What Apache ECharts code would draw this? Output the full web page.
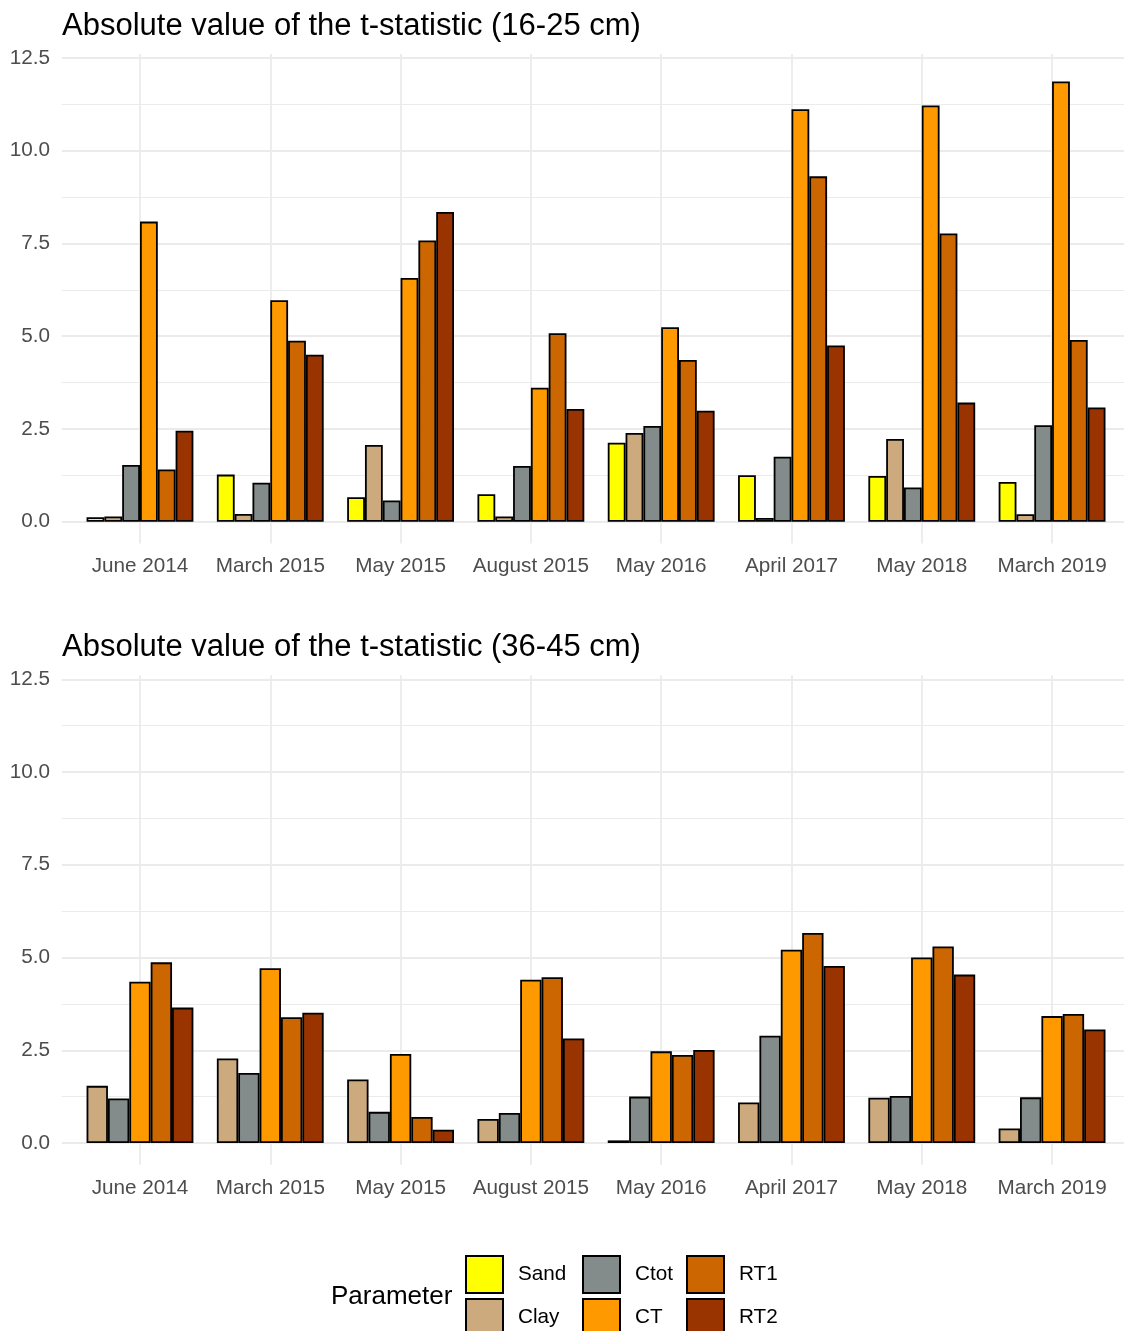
<!DOCTYPE html>
<html><head><meta charset="utf-8">
<script src="https://cdn.jsdelivr.net/npm/echarts@6/dist/echarts.min.js"></script>
<style>html,body{margin:0;padding:0;background:#fff}#c{width:1124px;height:1331px}</style>
</head><body><div id="c"></div>
<script>
// ---- data ----
const categories = ['June 2014','March 2015','May 2015','August 2015','May 2016','April 2017','May 2018','March 2019'];
const yTicks = [0, 2.5, 5, 7.5, 10, 12.5];
const yMinorTicks = [1.25, 3.75, 6.25, 8.75, 11.25];
const parameters = ['Sand','Clay','Ctot','CT','RT1','RT2'];
// 16-25 cm
const top_Sand = [0.12, 1.27, 0.66, 0.74, 2.13, 1.25, 1.23, 1.07];
const top_Clay = [0.14, 0.21, 2.07, 0.14, 2.39, 0.10, 2.23, 0.20];
const top_Ctot = [1.53, 1.05, 0.57, 1.50, 2.58, 1.75, 0.92, 2.60];
const top_CT   = [8.09, 5.97, 6.57, 3.61, 5.24, 11.12, 11.22, 11.87];
const top_RT1  = [1.41, 4.88, 7.58, 5.08, 4.36, 9.31, 7.77, 4.90];
const top_RT2  = [2.45, 4.50, 8.35, 3.04, 2.99, 4.75, 3.21, 3.08];
// 36-45 cm
const bot_Clay = [1.54, 2.28, 1.71, 0.65, 0.07, 1.09, 1.22, 0.39];
const bot_Ctot = [1.20, 1.89, 0.84, 0.81, 1.25, 2.89, 1.27, 1.23];
const bot_CT   = [4.35, 4.71, 2.40, 4.40, 2.47, 5.21, 5.00, 3.42];
const bot_RT1  = [4.87, 3.39, 0.70, 4.47, 2.37, 5.66, 5.30, 3.48];
const bot_RT2  = [3.65, 3.51, 0.36, 2.82, 2.51, 4.77, 4.54, 3.06];

const colors = {Sand:'#FFFF00', Clay:'#CDAA7D', Ctot:'#838B8B', CT:'#FF9900', RT1:'#CC6600', RT2:'#993300'};
const FONT = 'Liberation Sans, Arial, sans-serif';
const Y_MIN = -0.588, Y_MAX = 12.608;
const X_MIN = -0.6, X_MAX = 7.552;
const catIdx = categories.map((c, i) => i);

function xAxisFor(g) {
  return {
    type: 'value', gridIndex: g, min: X_MIN, max: X_MAX,
    axisLine: {show: false, onZero: false},
    axisTick: {show: false, customValues: catIdx},
    axisLabel: {customValues: catIdx, formatter: v => categories[Math.round(v)] || '',
      fontFamily: FONT, fontSize: 20.7, color: '#4D4D4D', margin: 12.5},
    splitLine: {show: true, lineStyle: {color: '#EBEBEB', width: 1.8}}
  };
}
function yAxisMain(g) {
  return {
    type: 'value', gridIndex: g, min: Y_MIN, max: Y_MAX,
    axisLine: {show: false}, axisTick: {show: false, customValues: yTicks},
    axisLabel: {customValues: yTicks, formatter: v => v.toFixed(1),
      fontFamily: FONT, fontSize: 20.7, color: '#4D4D4D', margin: 11.8},
    splitLine: {show: true, lineStyle: {color: '#EBEBEB', width: 1.8}}
  };
}
function yAxisMinor(g) {
  return {
    type: 'value', gridIndex: g, min: Y_MIN, max: Y_MAX, position: 'right',
    axisLine: {show: false}, axisTick: {show: false, customValues: yMinorTicks},
    axisLabel: {show: false, customValues: yMinorTicks},
    splitLine: {show: true, lineStyle: {color: '#EBEBEB', width: 1}}
  };
}
function barSeries(name, arr, xi, yi) {
  return {
    type: 'bar', name: name, xAxisIndex: xi, yAxisIndex: yi,
    data: arr.map((v, i) => [i, v]),
    barCategoryGap: '18%', barGap: '0%',
    itemStyle: {color: colors[name], borderColor: '#000', borderWidth: 1.8},
    emphasis: {disabled: true}, animation: false
  };
}
const topSets = {Sand: top_Sand, Clay: top_Clay, Ctot: top_Ctot, CT: top_CT, RT1: top_RT1, RT2: top_RT2};
const botSets = {Clay: bot_Clay, Ctot: bot_Ctot, CT: bot_CT, RT1: bot_RT1, RT2: bot_RT2};

const series = [];
parameters.forEach(p => { if (topSets[p]) series.push(barSeries(p, topSets[p], 0, 0)); });
parameters.forEach(p => { if (botSets[p]) series.push(barSeries(p, botSets[p], 1, 2)); });

function legendCol(names, left) {
  return {
    data: names, left: left, top: 1255, width: 200, height: 200, orient: 'vertical', icon: 'rect',
    itemWidth: 37, itemHeight: 37, itemGap: 4, padding: 0, selectedMode: false,
    textStyle: {fontFamily: FONT, fontSize: 20.7, color: '#000', padding: [3, 0, 0, 10]}
  };
}

const option = {
  animation: false,
  backgroundColor: '#fff',
  title: [
    {text: 'Absolute value of the t-statistic (16-25 cm)', left: 62, top: 10.5, padding: 0,
      textStyle: {fontFamily: FONT, fontSize: 31, fontWeight: 'normal', color: '#000'}},
    {text: 'Absolute value of the t-statistic (36-45 cm)', left: 62, top: 631.5, padding: 0,
      textStyle: {fontFamily: FONT, fontSize: 31, fontWeight: 'normal', color: '#000'}},
    {text: 'Parameter', left: 331, top: 1284, padding: 0,
      textStyle: {fontFamily: FONT, fontSize: 26, fontWeight: 'normal', color: '#000'}}
  ],
  grid: [
    {left: 61.8, top: 54, width: 1062.2, height: 489.5},
    {left: 61.8, top: 675.3, width: 1062.2, height: 489.5}
  ],
  xAxis: [xAxisFor(0), xAxisFor(1)],
  yAxis: [yAxisMain(0), yAxisMinor(0), yAxisMain(1), yAxisMinor(1)],
  legend: [legendCol(['Sand','Clay'], 465), legendCol(['Ctot','CT'], 582), legendCol(['RT1','RT2'], 686)],
  series: series
};
const chart = echarts.init(document.getElementById('c'), null, {renderer: 'canvas'});
chart.setOption(option);
</script></body></html>
